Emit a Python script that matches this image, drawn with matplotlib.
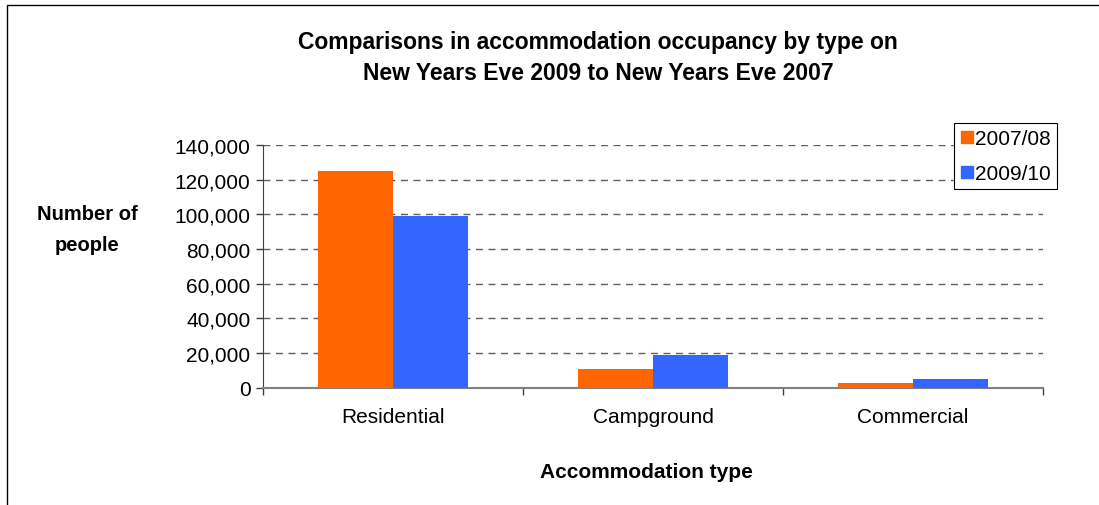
import matplotlib
matplotlib.use("Agg")
import matplotlib.pyplot as plt
from matplotlib.patches import Rectangle
from matplotlib.lines import Line2D
from matplotlib.ticker import FuncFormatter, FixedLocator
import numpy as np

categories = ["Residential", "Campground", "Commercial"]
series_names = ["2007/08", "2009/10"]
values_2007 = [125000, 11000, 2700]
values_2009 = [99000, 19000, 5000]
y_ticks = [0, 20000, 40000, 60000, 80000, 100000, 120000, 140000]

colors = ["#FF6600", "#3366FF"]

plt.rcParams["font.family"] = ["Liberation Sans", "DejaVu Sans"]

W, H = 1099, 506
fig = plt.figure(figsize=(W / 100, H / 100), dpi=100)

# outer chart frame
fig.patches.append(Rectangle((7 / W, -0.05), 1.1, 1 - 6 / H + 0.05,
                             transform=fig.transFigure, fill=False,
                             edgecolor="#000000", linewidth=1.0))

ax = fig.add_axes([263 / W, 1 - 388.7 / H, (1043 - 263) / W, (388.7 - 145.8) / H])

x = np.arange(len(categories))
bw = 0.29
ax.bar(x - bw / 2, values_2007, width=bw, color=colors[0], zorder=3)
ax.bar(x + bw / 2, values_2009, width=bw, color=colors[1], zorder=3)

ax.set_xlim(-0.5, len(categories) - 0.5)
ax.set_ylim(0, 140000)
ax.yaxis.set_major_locator(FixedLocator(y_ticks))
ax.yaxis.set_major_formatter(FuncFormatter(lambda v, p: f"{int(v):,}"))
ax.set_xticks(x)
ax.set_xticklabels(categories)
ax.xaxis.set_minor_locator(FixedLocator(np.arange(-0.5, len(categories), 1.0)))
ax.tick_params(axis="x", which="major", length=0, pad=14, labelsize=15)
ax.tick_params(axis="x", which="minor", length=5, color="#404040", width=1)
ax.tick_params(axis="y", length=5, color="#404040", width=1, labelsize=15, pad=4)

for s in ["top", "right"]:
    ax.spines[s].set_visible(False)
ax.spines["left"].set_color("#404040")
ax.spines["bottom"].set_color("#808080")
ax.spines["bottom"].set_linewidth(1.5)

ax.yaxis.grid(True, linestyle=(0, (5, 4)), color="#606060", linewidth=1.0, zorder=0)
ax.set_axisbelow(True)

title_x = 598 / W
fig.text(title_x, 1 - 42 / H,
         "Comparisons in accommodation occupancy by type on",
         ha="center", va="center", fontsize=16.5, fontweight="bold")
fig.text(title_x, 1 - 73 / H,
         "New Years Eve 2009 to New Years Eve 2007",
         ha="center", va="center", fontsize=16.5, fontweight="bold")

fig.text(87 / W, 1 - 230 / H, "Number of\npeople", ha="center", va="center",
         fontsize=14.5, fontweight="bold", linespacing=1.75)
fig.text(646 / W, 1 - 472 / H, "Accommodation type",
         ha="center", va="center", fontsize=15, fontweight="bold")

handles = [Line2D([0], [0], marker="s", linestyle="none", markersize=8,
                  markerfacecolor=c, markeredgecolor=c) for c in colors]
leg = fig.legend(handles, series_names, loc="upper right",
                 bbox_to_anchor=(1057 / W, 1 - 124 / H), fontsize=15,
                 frameon=True, fancybox=False, framealpha=1,
                 edgecolor="#000000", handletextpad=0.1, handlelength=0.6,
                 labelspacing=0.75, borderpad=0.3, borderaxespad=0)
leg.get_frame().set_linewidth(0.8)

fig.savefig("out.png", dpi=100)
